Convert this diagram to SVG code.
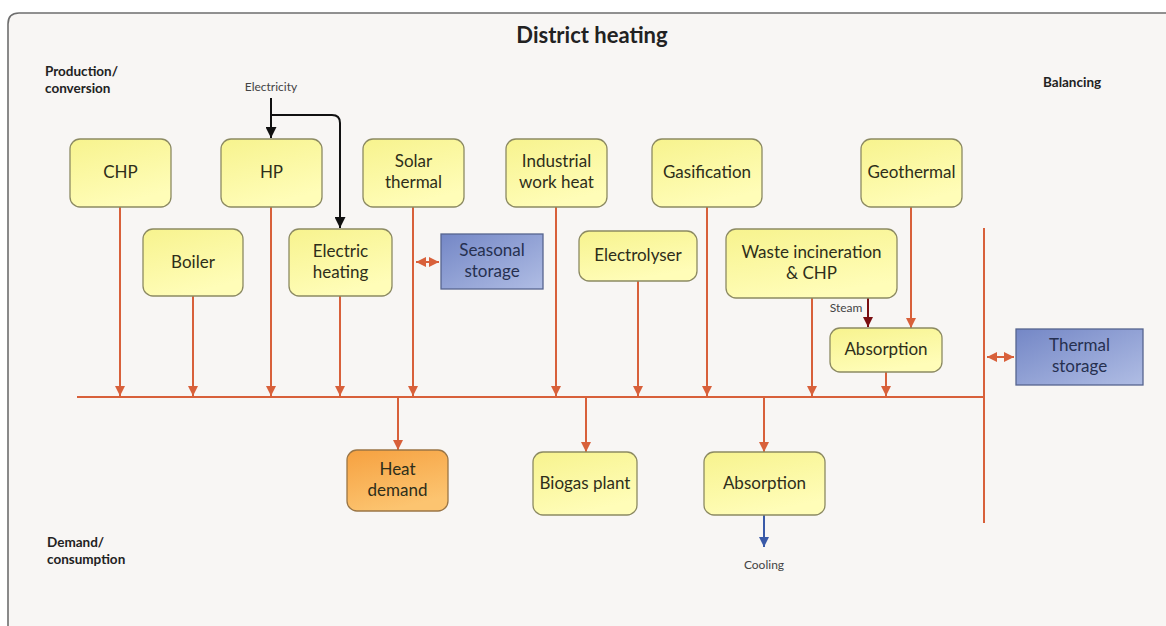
<svg xmlns="http://www.w3.org/2000/svg" width="1166" height="626" viewBox="0 0 1166 626">
  <defs>
    <linearGradient id="gYellow" x1="0" y1="0" x2="0.4" y2="1">
      <stop offset="0" stop-color="#f7f38e"/>
      <stop offset="1" stop-color="#fffdb8"/>
    </linearGradient>
    <linearGradient id="gBlue" x1="0" y1="0" x2="1" y2="1">
      <stop offset="0" stop-color="#7487c6"/>
      <stop offset="1" stop-color="#b0bde4"/>
    </linearGradient>
    <linearGradient id="gOrange" x1="0" y1="0" x2="0.4" y2="1">
      <stop offset="0" stop-color="#f6a140"/>
      <stop offset="1" stop-color="#fcc470"/>
    </linearGradient>
    <marker id="arrHeat" viewBox="0 0 10 10" refX="10" refY="5" markerWidth="10" markerHeight="10" markerUnits="userSpaceOnUse" orient="auto-start-reverse">
      <path d="M0,0 L10,5 L0,10 z" fill="#d8603a"/>
    </marker>
    <marker id="arrBlack" viewBox="0 0 10 10" refX="10" refY="5" markerWidth="11" markerHeight="11" markerUnits="userSpaceOnUse" orient="auto">
      <path d="M0,0 L10,5 L0,10 z" fill="#111"/>
    </marker>
    <marker id="arrSteam" viewBox="0 0 10 10" refX="10" refY="5" markerWidth="10" markerHeight="10" markerUnits="userSpaceOnUse" orient="auto">
      <path d="M0,0 L10,5 L0,10 z" fill="#7a0f12"/>
    </marker>
    <marker id="arrCool" viewBox="0 0 10 10" refX="10" refY="5" markerWidth="10" markerHeight="10" markerUnits="userSpaceOnUse" orient="auto">
      <path d="M0,0 L10,5 L0,10 z" fill="#3a5aa8"/>
    </marker>
  </defs>
  <style>
    .unit { fill: url(#gYellow); stroke: #8c8a62; stroke-width: 1.3; }
    .store { fill: url(#gBlue); stroke: #56658f; stroke-width: 1.3; }
    .demand { fill: url(#gOrange); stroke: #9a7646; stroke-width: 1.3; }
    .lbl { font-family: Lato, "Open Sans", "Liberation Sans", sans-serif; font-size: 17px; fill: #2e2e1a; text-anchor: middle; }
    .slbl { font-family: Lato, "Open Sans", "Liberation Sans", sans-serif; font-size: 17px; fill: #263050; text-anchor: middle; }
    .head { font-family: Lato, "Open Sans", "Liberation Sans", sans-serif; font-size: 13.5px; font-weight: bold; fill: #222; }
    .note { font-family: Lato, "Open Sans", "Liberation Sans", sans-serif; font-size: 12px; fill: #444; text-anchor: middle; }
    .heat { stroke: #d8603a; stroke-width: 2; fill: none; }
  </style>

  <!-- page and frame -->
  <rect x="0" y="0" width="1166" height="626" fill="#ffffff"/>
  <path d="M8,640 L8,24 Q8,13 19,13 L1170,13 L1170,640 z" fill="#f8f6f4"/>
  <path d="M8,640 L8,24 Q8,13 19,13 L1170,13" fill="none" stroke="#6e6e6e" stroke-width="1.6"/>

  <!-- headings -->
  <text x="592" y="43" font-family="Lato, 'Open Sans', 'Liberation Sans', sans-serif" font-size="22" font-weight="bold" fill="#222" text-anchor="middle">District heating</text>
  <text class="head" x="45" y="76">Production/</text>
  <text class="head" x="45" y="93">conversion</text>
  <text class="head" x="1043" y="87">Balancing</text>
  <text class="head" x="47" y="547">Demand/</text>
  <text class="head" x="47" y="564">consumption</text>
  <text class="note" x="271" y="91">Electricity</text>
  <text class="note" x="846" y="312">Steam</text>
  <text class="note" x="764" y="569">Cooling</text>

  <!-- connectors -->
  <g id="connectors">
    <!-- heat bus and balancing line -->
    <line class="heat" x1="77" y1="397" x2="985" y2="397"/>
    <line class="heat" x1="984" y1="228" x2="984" y2="523"/>
    <!-- production into bus -->
    <line class="heat" x1="120" y1="207" x2="120" y2="396" marker-end="url(#arrHeat)"/>
    <line class="heat" x1="193" y1="296" x2="193" y2="396" marker-end="url(#arrHeat)"/>
    <line class="heat" x1="271" y1="207" x2="271" y2="396" marker-end="url(#arrHeat)"/>
    <line class="heat" x1="340" y1="296" x2="340" y2="396" marker-end="url(#arrHeat)"/>
    <line class="heat" x1="413" y1="207" x2="413" y2="396" marker-end="url(#arrHeat)"/>
    <line class="heat" x1="556" y1="207" x2="556" y2="396" marker-end="url(#arrHeat)"/>
    <line class="heat" x1="638" y1="281" x2="638" y2="396" marker-end="url(#arrHeat)"/>
    <line class="heat" x1="707" y1="207" x2="707" y2="396" marker-end="url(#arrHeat)"/>
    <line class="heat" x1="812" y1="298" x2="812" y2="396" marker-end="url(#arrHeat)"/>
    <line class="heat" x1="886" y1="372" x2="886" y2="396" marker-end="url(#arrHeat)"/>
    <line class="heat" x1="911" y1="207" x2="911" y2="328" marker-end="url(#arrHeat)"/>
    <!-- bus to demand -->
    <line class="heat" x1="398" y1="397" x2="398" y2="450" marker-end="url(#arrHeat)"/>
    <line class="heat" x1="586" y1="397" x2="586" y2="452" marker-end="url(#arrHeat)"/>
    <line class="heat" x1="764" y1="397" x2="764" y2="452" marker-end="url(#arrHeat)"/>
    <!-- storage exchange -->
    <line class="heat" x1="416" y1="262" x2="439" y2="262" marker-start="url(#arrHeat)" marker-end="url(#arrHeat)"/>
    <line class="heat" x1="987" y1="357" x2="1014" y2="357" marker-start="url(#arrHeat)" marker-end="url(#arrHeat)"/>
    <!-- electricity -->
    <line x1="271" y1="98" x2="271" y2="138" stroke="#111" stroke-width="2" marker-end="url(#arrBlack)"/>
    <path d="M271,115 L332,115 Q340,115 340,123 L340,228" fill="none" stroke="#111" stroke-width="2" marker-end="url(#arrBlack)"/>
    <!-- steam -->
    <line x1="868" y1="298" x2="868" y2="327" stroke="#7a0f12" stroke-width="2" marker-end="url(#arrSteam)"/>
    <!-- cooling -->
    <line x1="764" y1="515" x2="764" y2="547" stroke="#3a5aa8" stroke-width="2" marker-end="url(#arrCool)"/>
  </g>

  <!-- production / conversion units -->
  <g id="chp"><rect class="unit" x="70" y="139" width="101" height="68" rx="10"/><text class="lbl" x="120.5" y="178">CHP</text></g>
  <g id="hp"><rect class="unit" x="221" y="139" width="101" height="68" rx="10"/><text class="lbl" x="271.5" y="178">HP</text></g>
  <g id="solar-thermal"><rect class="unit" x="363" y="139" width="101" height="68" rx="10"/><text class="lbl" x="413.5" y="167">Solar</text><text class="lbl" x="413.5" y="188">thermal</text></g>
  <g id="industrial-heat"><rect class="unit" x="506" y="139" width="101" height="68" rx="10"/><text class="lbl" x="556.5" y="167">Industrial</text><text class="lbl" x="556.5" y="188">work heat</text></g>
  <g id="gasification"><rect class="unit" x="652" y="139" width="110" height="68" rx="10"/><text class="lbl" x="707" y="178">Gasification</text></g>
  <g id="geothermal"><rect class="unit" x="861" y="139" width="101" height="68" rx="10"/><text class="lbl" x="911.5" y="178">Geothermal</text></g>
  <g id="boiler"><rect class="unit" x="143" y="229" width="100" height="67" rx="10"/><text class="lbl" x="193" y="268">Boiler</text></g>
  <g id="electric-heating"><rect class="unit" x="289" y="229" width="103" height="67" rx="10"/><text class="lbl" x="340.5" y="257">Electric</text><text class="lbl" x="340.5" y="278">heating</text></g>
  <g id="electrolyser"><rect class="unit" x="579" y="231" width="118" height="50" rx="10"/><text class="lbl" x="638" y="261">Electrolyser</text></g>
  <g id="waste-incineration"><rect class="unit" x="726" y="229" width="171" height="69" rx="10"/><text class="lbl" x="811.5" y="258">Waste incineration</text><text class="lbl" x="811.5" y="279">&amp; CHP</text></g>
  <g id="absorption-upper"><rect class="unit" x="830" y="328" width="112" height="44" rx="10"/><text class="lbl" x="886" y="355">Absorption</text></g>

  <!-- storage -->
  <g id="seasonal-storage"><rect class="store" x="441" y="234" width="102" height="55"/><text class="slbl" x="492" y="256">Seasonal</text><text class="slbl" x="492" y="277">storage</text></g>
  <g id="thermal-storage"><rect class="store" x="1016" y="329" width="127" height="56"/><text class="slbl" x="1079.5" y="351">Thermal</text><text class="slbl" x="1079.5" y="372">storage</text></g>

  <!-- demand / consumption -->
  <g id="heat-demand"><rect class="demand" x="347" y="450" width="101" height="61" rx="10"/><text class="lbl" x="397.5" y="475">Heat</text><text class="lbl" x="397.5" y="496">demand</text></g>
  <g id="biogas-plant"><rect class="unit" x="533" y="452" width="104" height="63" rx="10"/><text class="lbl" x="585" y="489">Biogas plant</text></g>
  <g id="absorption-lower"><rect class="unit" x="704" y="452" width="121" height="63" rx="10"/><text class="lbl" x="764.5" y="489">Absorption</text></g>
</svg>
